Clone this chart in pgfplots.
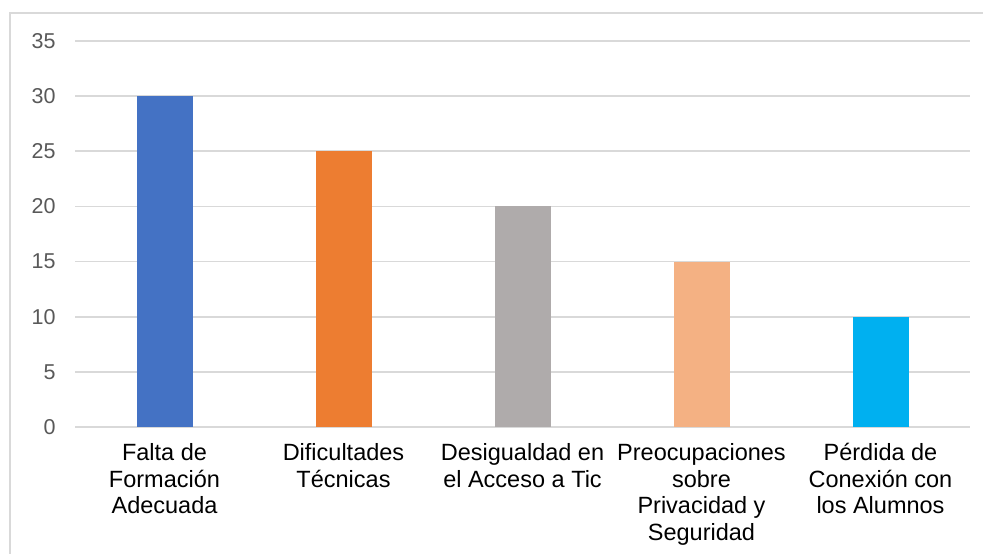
\documentclass[border=0pt]{standalone}
\usepackage{pgfplots}
\pgfplotsset{compat=1.18}
\usepackage{fontspec}
\setmainfont{Liberation Sans}
\definecolor{cblue}{HTML}{4472C4}
\definecolor{corange}{HTML}{ED7D31}
\definecolor{cgray}{HTML}{AFABAB}
\definecolor{cpeach}{HTML}{F4B183}
\definecolor{ccyan}{HTML}{00B0F0}
\definecolor{gridgray}{HTML}{D9D9D9}
\definecolor{ticktext}{HTML}{595959}
\begin{document}
\begin{tikzpicture}[x=1pt,y=1pt]
\path[use as bounding box, fill=white] (0,0) rectangle (983,-554);
\draw[gridgray, line width=2pt] (10,-554) -- (10,-13) -- (983,-13);
\begin{axis}[
  at={(75pt,-427pt)}, anchor=south west,
  scale only axis, width=895pt, height=386pt,
  xmin=-0.5, xmax=4.5, ymin=0, ymax=35,
  ytick={0,5,...,35}, xtick={0,1,2,3,4},
  xticklabels={{Falta de\\Formación\\Adecuada},{Dificultades\\Técnicas},{Desigualdad en\\el Acceso a Tic},{Preocupaciones\\sobre\\Privacidad y\\Seguridad},{Pérdida de\\Conexión con\\los Alumnos}},
  ymajorgrids, grid style={gridgray, line width=1.8pt},
  axis line style={draw=none},
  major tick length=0pt,
  /pgf/number format/assume math mode=true,
  yticklabel style={font=\fontsize{21.5}{24}\selectfont, text=ticktext, xshift=-16pt},
  xticklabel style={align=center, font=\fontsize{23.5}{26.5}\selectfont, text=black, yshift=-13pt},
  ybar, bar width=56pt, bar shift=0pt,
]
\addplot[draw=none, fill=cblue] coordinates {(0,30)};
\addplot[draw=none, fill=corange] coordinates {(1,25)};
\addplot[draw=none, fill=cgray] coordinates {(2,20)};
\addplot[draw=none, fill=cpeach] coordinates {(3,15)};
\addplot[draw=none, fill=ccyan] coordinates {(4,10)};
\end{axis}
\end{tikzpicture}
\end{document}
